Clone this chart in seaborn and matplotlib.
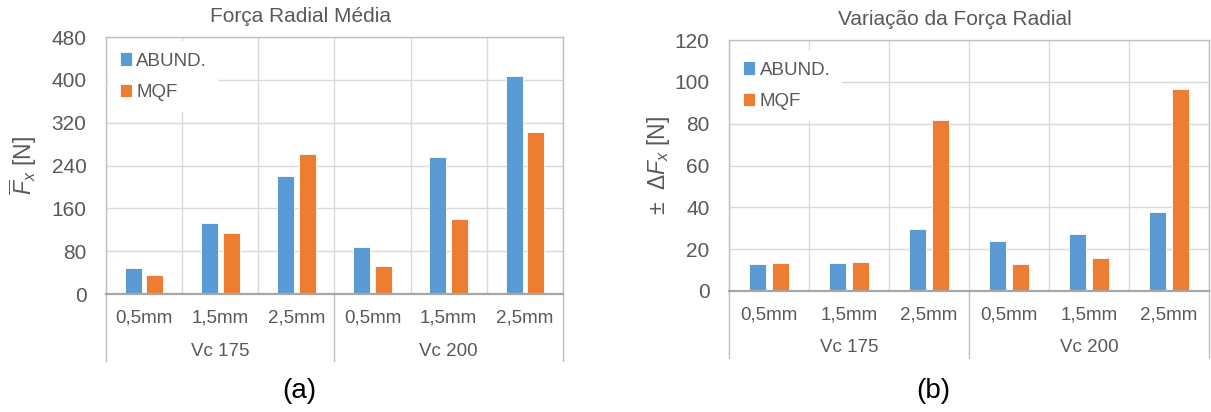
import matplotlib
matplotlib.use("Agg")
import matplotlib.pyplot as plt
import matplotlib.transforms as mtransforms
import seaborn as sns
import pandas as pd
import numpy as np

# ---------------- data ----------------
groups = ["Vc 175", "Vc 200"]
sub_labels = ["0,5mm", "1,5mm", "2,5mm"]
series = ["ABUND.", "MQF"]

fx_abund = [48, 133, 220, 88.5, 256, 407]
fx_mqf = [35.5, 114, 261, 52.5, 141, 302]

dfx_abund = [12.9, 13.6, 29.8, 23.9, 27.4, 37.7]
dfx_mqf = [13.2, 13.7, 81.9, 13.1, 15.6, 96.4]

yticks_a = [0, 80, 160, 240, 320, 400, 480]
yticks_b = [0, 20, 40, 60, 80, 100, 120]

# ---------------- style ----------------
sns.set_theme(style="white")
plt.rcParams["font.family"] = ["Liberation Sans", "DejaVu Sans"]
plt.rcParams["mathtext.fontset"] = "custom"
plt.rcParams["mathtext.rm"] = "Liberation Sans"
plt.rcParams["mathtext.it"] = "Liberation Sans:italic"

TXT = "#595959"
GRID = "#d9d9d9"
AXC = "#bfbfbf"
colors = {"ABUND.": "#5B9BD5", "MQF": "#ED7D31"}

cat_keys = [f"{g}|{s}" for g in groups for s in sub_labels]
cat_sub = [s for g in groups for s in sub_labels]


def make_df(a, b):
    return pd.DataFrame({
        "cat": cat_keys * 2,
        "serie": [series[0]] * 6 + [series[1]] * 6,
        "val": list(a) + list(b),
    })


W, H = 1211, 412
fig = plt.figure(figsize=(W / 100, H / 100), dpi=100)


def px_axes(x0, y0, x1, y1):
    return fig.add_axes([x0 / W, 1 - y1 / H, (x1 - x0) / W, (y1 - y0) / H])


def draw(ax, df, yticks, title, title_x, ylabel, ylabelpad, panel, panel_x,
         legend_anchor):
    sns.barplot(data=df, x="cat", y="val", hue="serie", order=cat_keys,
                hue_order=series, palette=colors, width=0.57, gap=0.22,
                ax=ax, saturation=1, linewidth=0.6, edgecolor="white",
                errorbar=None)
    n = len(cat_keys)
    ax.set_xlim(-0.5, n - 0.5)
    ax.set_ylim(yticks[0], yticks[-1])
    ax.set_yticks(yticks)
    ax.set_yticklabels([str(t) for t in yticks], color=TXT, fontsize=15)
    ax.tick_params(axis="y", length=0, pad=14)
    ax.set_xticks(range(n))
    ax.set_xticklabels(cat_sub, color=TXT, fontsize=13.5)
    ax.tick_params(axis="x", which="major", length=0, pad=11)
    bounds = np.arange(-0.5, n, 1.0)
    ax.set_xticks(bounds, minor=True)
    ax.tick_params(axis="x", which="minor", length=25, width=1.0,
                   color=AXC, direction="out")
    ax.grid(axis="y", which="major", color=GRID, linewidth=1.0)
    ax.grid(axis="x", which="minor", color=GRID, linewidth=1.0)
    ax.set_axisbelow(True)
    for side in ["left", "top", "right"]:
        ax.spines[side].set_color(AXC)
        ax.spines[side].set_linewidth(1.0)
        ax.spines[side].set_visible(True)
    ax.spines["bottom"].set_color("#a6a6a6")
    ax.spines["bottom"].set_linewidth(1.6)
    ax.set_xlabel("")
    ax.set_ylabel(ylabel, color=TXT, fontsize=16.5, labelpad=ylabelpad)
    ax.set_title(title, color=TXT, fontsize=15, pad=11, x=title_x)

    # group level of the category axis
    trans = mtransforms.blended_transform_factory(ax.transData, ax.transAxes)
    bbox = ax.get_position()
    ax_h_px = bbox.height * H
    depth = 67 / ax_h_px
    for xb in [-0.5, 2.5, 5.5]:
        ax.plot([xb, xb], [0, -depth], transform=trans, color=AXC,
                linewidth=1.0, clip_on=False)
    for gi, g in enumerate(groups):
        ax.text(gi * 3 + 1, -(57 / ax_h_px), g, transform=trans,
                ha="center", va="center", color=TXT, fontsize=13.5)

    # panel label
    fig.text(panel_x / W, 1 - 391 / H, panel, ha="center", va="center",
             color="black", fontsize=20)

    # legend
    handles, labels = ax.get_legend_handles_labels()
    leg = ax.legend(handles, labels, loc="upper left",
                    bbox_to_anchor=legend_anchor, frameon=True,
                    fancybox=False, framealpha=1, facecolor="white",
                    edgecolor="none", fontsize=13.5, handlelength=0.65,
                    handleheight=0.75, handletextpad=0.25, labelspacing=0.75,
                    borderpad=0.6, borderaxespad=0)
    for t in leg.get_texts():
        t.set_color(TXT)


ax1 = px_axes(106, 37, 563, 294)
draw(ax1, make_df(fx_abund, fx_mqf), yticks_a, "Força Radial Média", 0.425,
     r"$\overline{F}_x$ [N]", 9, "(a)", 299, (0.005, 0.985))

ax2 = px_axes(729, 40, 1209, 291)
draw(ax2, make_df(dfx_abund, dfx_mqf), yticks_b, "Variação da Força Radial",
     0.471, "±  " + r"$\Delta F_x$ [N]", 2, "(b)", 933, (0.005, 0.96))

fig.savefig("out.png", dpi=100, facecolor="white")
